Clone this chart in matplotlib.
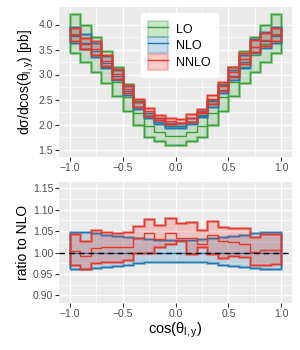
import numpy as np
import matplotlib.pyplot as plt
from matplotlib.patches import Patch
from matplotlib.lines import Line2D

plt.rcParams['font.family'] = ['Liberation Sans', 'DejaVu Sans']
plt.rcParams['mathtext.fontset'] = 'custom'
plt.rcParams['mathtext.rm'] = 'Liberation Sans'
plt.rcParams['mathtext.it'] = 'Liberation Sans:italic'

# bins in cos(theta)
edges = np.linspace(-1.0, 1.0, 21)

# LO scale band (pb)
lo_up = [4.21, 3.99, 3.75, 3.47, 3.15, 2.82, 2.48, 2.18, 2.05, 1.97,
         1.97, 2.05, 2.18, 2.48, 2.82, 3.15, 3.47, 3.75, 3.99, 4.21]
lo_c = [3.82, 3.62, 3.40, 3.15, 2.86, 2.55, 2.24, 1.97, 1.86, 1.78,
        1.78, 1.86, 1.97, 2.24, 2.55, 2.86, 3.15, 3.40, 3.62, 3.82]
lo_dn = [3.44, 3.26, 3.06, 2.84, 2.57, 2.28, 2.00, 1.76, 1.67, 1.60,
         1.60, 1.67, 1.76, 2.00, 2.28, 2.57, 2.84, 3.06, 3.26, 3.44]

# NLO central (pb)
nlo_c = [3.77, 3.64, 3.48, 3.24, 2.98, 2.67, 2.36, 2.17, 2.06, 1.97,
         1.97, 2.06, 2.20, 2.41, 2.70, 2.98, 3.25, 3.55, 3.67, 3.77]
# NLO band relative to NLO central
nlo_rup = [1.048, 1.047, 1.045, 1.042, 1.039, 1.036, 1.034, 1.031, 1.030, 1.029,
           1.029, 1.030, 1.031, 1.034, 1.036, 1.039, 1.042, 1.045, 1.047, 1.048]
nlo_rdn = [0.961, 0.962, 0.964, 0.966, 0.969, 0.972, 0.975, 0.977, 0.977, 0.978,
           0.978, 0.979, 0.977, 0.975, 0.972, 0.969, 0.966, 0.964, 0.962, 0.961]
# NNLO relative to NLO central
nnlo_rup = [1.044, 1.026, 1.053, 1.049, 1.045, 1.047, 1.062, 1.078, 1.065, 1.081,
            1.069, 1.071, 1.052, 1.074, 1.059, 1.057, 1.057, 1.037, 1.043, 1.044]
nnlo_rc = [1.003, 0.991, 1.011, 1.012, 1.012, 1.014, 1.034, 1.045, 1.031, 1.046,
           1.033, 1.035, 1.020, 1.042, 1.026, 1.024, 1.020, 1.002, 1.005, 1.006]
nnlo_rdn = [0.971, 0.962, 0.975, 0.977, 0.979, 0.983, 1.000, 0.998, 1.014, 1.020,
            1.027, 0.997, 1.012, 0.996, 0.988, 0.992, 0.990, 0.970, 0.972, 0.973]

GREEN = '#36a336'
BLUE = '#1f78b4'
RED = '#e8352a'

nlo_c = np.array(nlo_c)
nlo_up = nlo_c * np.array(nlo_rup)
nlo_dn = nlo_c * np.array(nlo_rdn)
nnlo_c = nlo_c * np.array(nnlo_rc)
nnlo_up = nlo_c * np.array(nnlo_rup)
nnlo_dn = nlo_c * np.array(nnlo_rdn)


def style(ax):
    ax.set_facecolor('#EBEBEB')
    for s in ax.spines.values():
        s.set_visible(False)
    ax.grid(True, which='major', color='white', lw=1.0)
    ax.grid(True, which='minor', color='white', lw=0.5)
    ax.set_axisbelow(True)
    ax.tick_params(which='major', labelsize=7.5, labelcolor='#4D4D4D',
                   color='#333333', length=2.75, width=0.8, pad=1.5)
    ax.tick_params(which='minor', length=0)


def band(ax, up, dn, c, mid=None, fa=0.2):
    ax.stairs(up, edges, baseline=dn, fill=True, color=c, alpha=fa, lw=0)
    ax.stairs(up, edges, baseline=dn, fill=False, color=c, alpha=0.35, lw=2.2)
    ax.stairs(up, edges, baseline=None, color=c, lw=1.0)
    ax.stairs(dn, edges, baseline=None, color=c, lw=1.0)
    ax.vlines([edges[0], edges[-1]], [dn[0], dn[-1]], [up[0], up[-1]], color=c, lw=1.0)
    if mid is not None:
        ax.stairs(mid, edges, baseline=None, color=c, lw=1.0)


fig = plt.figure(figsize=(3.0, 3.5), dpi=100)
ax1 = fig.add_axes([59/300, 1-157/350, 233/300, 150/350])
ax2 = fig.add_axes([59/300, 1-303/350, 233/300, 121/350])

style(ax1)
band(ax1, lo_up, lo_dn, GREEN, lo_c)
band(ax1, nlo_up, nlo_dn, BLUE, nlo_c)
band(ax1, nnlo_up, nnlo_dn, RED, nnlo_c)
ax1.set_xlim(-1.1, 1.1)
ax1.set_ylim(1.35, 4.35)
ax1.set_xticks([-1.0, -0.5, 0.0, 0.5, 1.0])
ax1.set_xticks([-0.75, -0.25, 0.25, 0.75], minor=True)
ax1.set_yticks([1.5, 2.0, 2.5, 3.0, 3.5, 4.0])
ax1.set_yticks([1.75, 2.25, 2.75, 3.25, 3.75], minor=True)
ax1.set_xticklabels(['\u22121.0', '\u22120.5', '0.0', '0.5', '1.0'])
ax1.set_ylabel(r'd$\mathrm{\sigma}$/dcos($\mathrm{\theta_{l,y}}$) [pb]', fontsize=10, labelpad=2)

handles = []
for c in [GREEN, BLUE, RED]:
    handles.append((Patch(facecolor=c, alpha=0.25, edgecolor=c, lw=1.5),
                    Line2D([], [], color=c, lw=1.0)))
leg = ax1.legend(handles, ['LO', 'NLO', 'NNLO'], loc='upper left',
                 bbox_to_anchor=(0.35, 0.96), borderaxespad=0, fontsize=9,
                 handlelength=1.6, handleheight=1.6, labelspacing=0.05,
                 handletextpad=0.6, borderpad=0.6, frameon=True, fancybox=False)
leg.get_frame().set_facecolor('white')
leg.get_frame().set_edgecolor('white')
leg.get_frame().set_alpha(1)

style(ax2)
band(ax2, nlo_rup, nlo_rdn, BLUE, np.ones(20), fa=0.22)
band(ax2, nnlo_rup, nnlo_rdn, RED, nnlo_rc, fa=0.22)
ax2.axhline(1.0, color='black', ls='--', lw=1.0, dashes=(4, 3))
ax2.set_xlim(-1.1, 1.1)
ax2.set_ylim(0.882, 1.165)
ax2.set_xticks([-1.0, -0.5, 0.0, 0.5, 1.0])
ax2.set_xticks([-0.75, -0.25, 0.25, 0.75], minor=True)
ax2.set_yticks([0.90, 0.95, 1.00, 1.05, 1.10, 1.15])
ax2.set_yticks([0.925, 0.975, 1.025, 1.075, 1.125], minor=True)
ax2.set_xticklabels(['\u22121.0', '\u22120.5', '0.0', '0.5', '1.0'])
ax2.set_yticklabels(['0.90', '0.95', '1.00', '1.05', '1.10', '1.15'])
ax2.set_ylabel('ratio to NLO', fontsize=10, labelpad=2)
ax2.set_xlabel(r'cos($\mathrm{\theta_{l,y}}$)', fontsize=10.5, labelpad=1)

fig.savefig('out.png', dpi=100)
